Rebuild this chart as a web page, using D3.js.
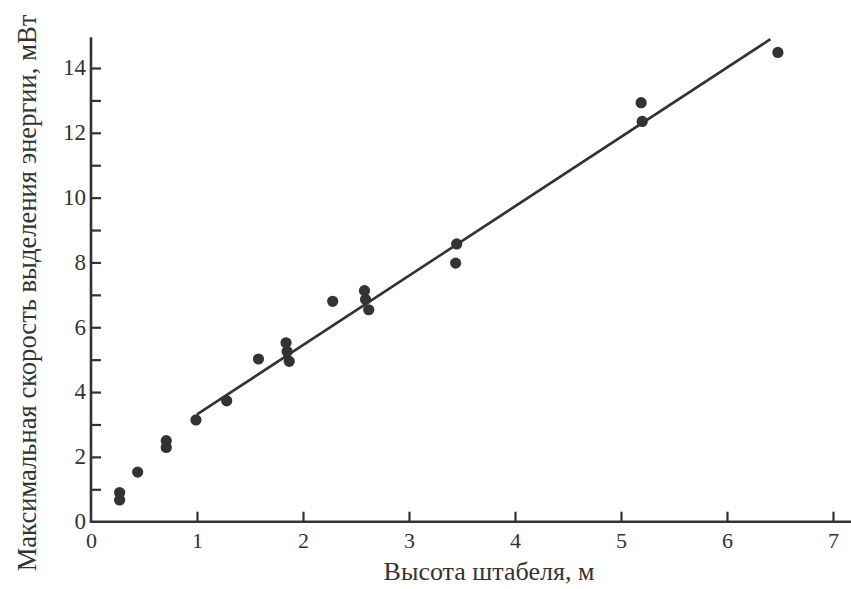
<!DOCTYPE html>
<html>
<head>
<meta charset="utf-8">
<script src="https://cdn.jsdelivr.net/npm/d3@7"></script>
<style>
  html, body { margin: 0; padding: 0; background: #fff; }
  svg { display: block; }
  svg text { font-family: "Liberation Serif", "Times New Roman", Times, "DejaVu Serif", serif; fill: #333; }
</style>
</head>
<body>
<script>
// Stack height (m) vs. maximum heat release rate (mW)
const stackHeight = [0.27, 0.27, 0.44, 0.71, 0.71, 0.99, 1.28, 1.58, 1.84, 1.85, 1.87, 2.28, 2.58, 2.59, 2.62, 3.45, 3.44, 5.19, 5.20, 6.48];
const maxPower    = [0.90, 0.67, 1.53, 2.50, 2.29, 3.14, 3.73, 5.02, 5.52, 5.25, 4.95, 6.80, 7.13, 6.86, 6.54, 8.57, 7.98, 12.93, 12.35, 14.48];

// Linear fit drawn across the upper range
const fitX = [1.0, 6.41];
const fitY = [3.31, 14.89];

const xTicks = [0, 1, 2, 3, 4, 5, 6, 7];
const yTicksMajor = [0, 2, 4, 6, 8, 10, 12, 14];
const yTicksMinor = [1, 3, 5, 7, 9, 11, 13];

const xTitle = "Высота штабеля, м";
const yTitle = "Максимальная скорость выделения энергии, мВт";

const W = 851, H = 589;
const ink = "#333";
const serif = '"Liberation Serif", "Times New Roman", Times, serif';

const svg = d3.select("body").append("svg").attr("width", W).attr("height", H);

const x = d3.scaleLinear().domain([0, 7]).range([91, 833]);
const y = d3.scaleLinear().domain([0, 14]).range([521.7, 68]);

// Axis lines
svg.append("line")
  .attr("x1", x(0)).attr("x2", W).attr("y1", y(0)).attr("y2", y(0))
  .attr("stroke", ink).attr("stroke-width", 2.6);
svg.append("line")
  .attr("x1", x(0)).attr("x2", x(0)).attr("y1", y(0) + 1.3).attr("y2", y(14.95))
  .attr("stroke", ink).attr("stroke-width", 2.6);

// X axis: inward ticks
const xAxis = d3.axisBottom(x).tickValues(xTicks).tickSizeInner(-10).tickSizeOuter(0).tickPadding(0).tickFormat(d3.format("d"));
const gx = svg.append("g").attr("transform", `translate(0,${y(0)})`).call(xAxis)
  .attr("font-family", serif).attr("font-size", 22);
gx.select(".domain").remove();
gx.selectAll(".tick line").attr("stroke", ink).attr("stroke-width", 2.2)
  .filter(d => d === 0).remove();
gx.selectAll(".tick text")
  .attr("y", 26).attr("dy", null)
  .attr("fill", ink);

// Y axis: major labelled ticks and minor ticks, all inward
const yAxis = d3.axisLeft(y).tickValues(yTicksMajor).tickSizeInner(-10).tickSizeOuter(0).tickPadding(0).tickFormat(d3.format("d"));
const gy = svg.append("g").attr("transform", `translate(${x(0)},0)`).call(yAxis)
  .attr("font-family", serif).attr("font-size", 23);
gy.select(".domain").remove();
gy.selectAll(".tick line").attr("stroke", ink).attr("stroke-width", 2.2)
  .filter(d => d === 0).remove();
gy.selectAll(".tick text")
  .attr("x", -5).attr("dy", "0.3em")
  .attr("fill", ink);

const yMinor = d3.axisLeft(y).tickValues(yTicksMinor).tickSizeInner(-10).tickSizeOuter(0).tickFormat("");
const gym = svg.append("g").attr("transform", `translate(${x(0)},0)`).call(yMinor);
gym.select(".domain").remove();
gym.selectAll(".tick line").attr("stroke", ink).attr("stroke-width", 2.2);

// Fit line
svg.append("path")
  .datum(d3.zip(fitX, fitY))
  .attr("d", d3.line().x(d => x(d[0])).y(d => y(d[1])))
  .attr("fill", "none").attr("stroke", ink).attr("stroke-width", 2.6);

// Measurements
svg.append("g").selectAll("circle")
  .data(d3.zip(stackHeight, maxPower))
  .join("circle")
  .attr("cx", d => x(d[0])).attr("cy", d => y(d[1]))
  .attr("r", 5.6).attr("fill", ink);

// Axis titles
svg.append("text")
  .attr("x", 489).attr("y", 580)
  .attr("text-anchor", "middle")
  .attr("font-family", serif)
  .attr("font-size", 26)
  .text(xTitle);

svg.append("text")
  .attr("transform", `translate(36,293) rotate(-90)`)
  .attr("text-anchor", "middle")
  .attr("font-family", serif)
  .attr("font-size", 26.6)
  .text(yTitle);
</script>
</body>
</html>
